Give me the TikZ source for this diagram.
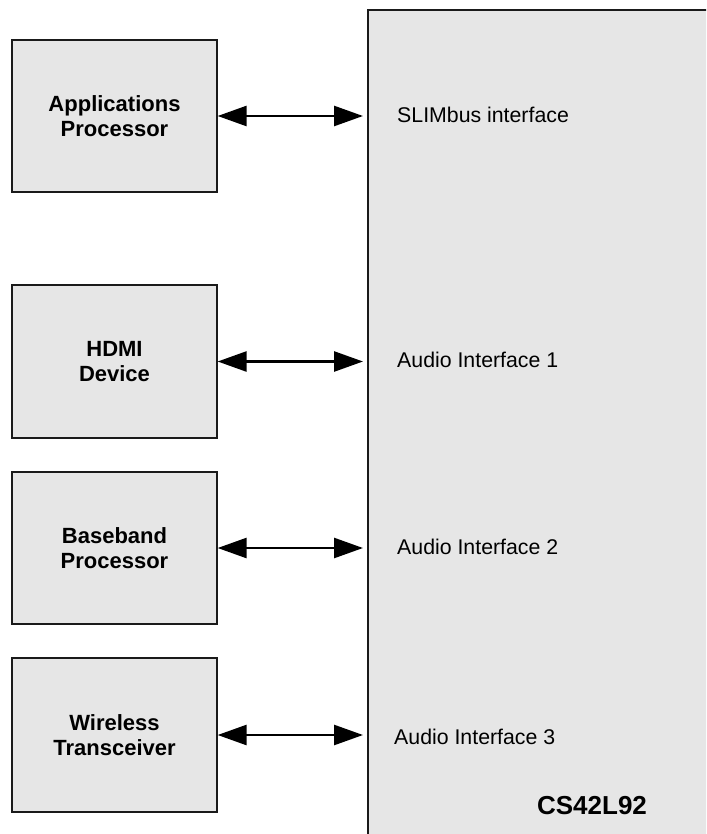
\documentclass[tikz,border=0pt]{standalone}
\usepackage{fontspec}
\setmainfont{Liberation Sans}
\usetikzlibrary{arrows.meta}
\definecolor{boxgray}{HTML}{E6E6E6}
\definecolor{edge}{HTML}{1A1A1A}
\begin{document}
\begin{tikzpicture}[x=1pt,y=-1pt,
  devbox/.style={draw=edge, line width=1.3pt, fill=boxgray, minimum width=205pt,
    align=center, inner sep=0pt, font=\fontsize{22}{24.5}\selectfont\bfseries},
  iflabel/.style={anchor=west, inner sep=0pt, font=\fontsize{21.3}{24}\selectfont},
  link/.style={line width=2.6pt, {Triangle[length=29pt,width=20pt]}-{Triangle[length=29pt,width=20pt]}, shorten >=4pt}
]
\clip (0,0) rectangle (706,834);
\fill[white] (0,0) rectangle (706,834);
% chip
\node[draw=edge, line width=1.8pt, fill=boxgray, minimum width=360pt, minimum height=850pt,
  inner sep=0pt, anchor=north west] (chip) at (367,9) {};
% devices
\node[devbox, minimum height=152pt] (app) at (114.5,116) {Applications\\Processor};
\node[devbox, minimum height=153pt] (hdmi) at (114.5,361.5) {HDMI\\Device};
\node[devbox, minimum height=152pt] (bb) at (114.5,548) {Baseband\\Processor};
\node[devbox, minimum height=154pt] (wl) at (114.5,735) {Wireless\\Transceiver};
% connectors
\draw[link] (app.east) -- (app.east -| chip.west);
\draw[link] (hdmi.east) -- (hdmi.east -| chip.west);
\draw[link] (bb.east) -- (bb.east -| chip.west);
\draw[link] (wl.east) -- (wl.east -| chip.west);
% labels
\node[iflabel] (l0) at (397,115) {SLIMbus interface};
\node[iflabel] (l1) at (397,360) {Audio Interface 1};
\node[iflabel] (l2) at (397,547) {Audio Interface 2};
\node[iflabel] (l3) at (394,737) {Audio Interface 3};
\node[font=\fontsize{26}{28}\selectfont\bfseries, inner sep=0pt] (name) at (592,806) {CS42L92};
\end{tikzpicture}
\end{document}
